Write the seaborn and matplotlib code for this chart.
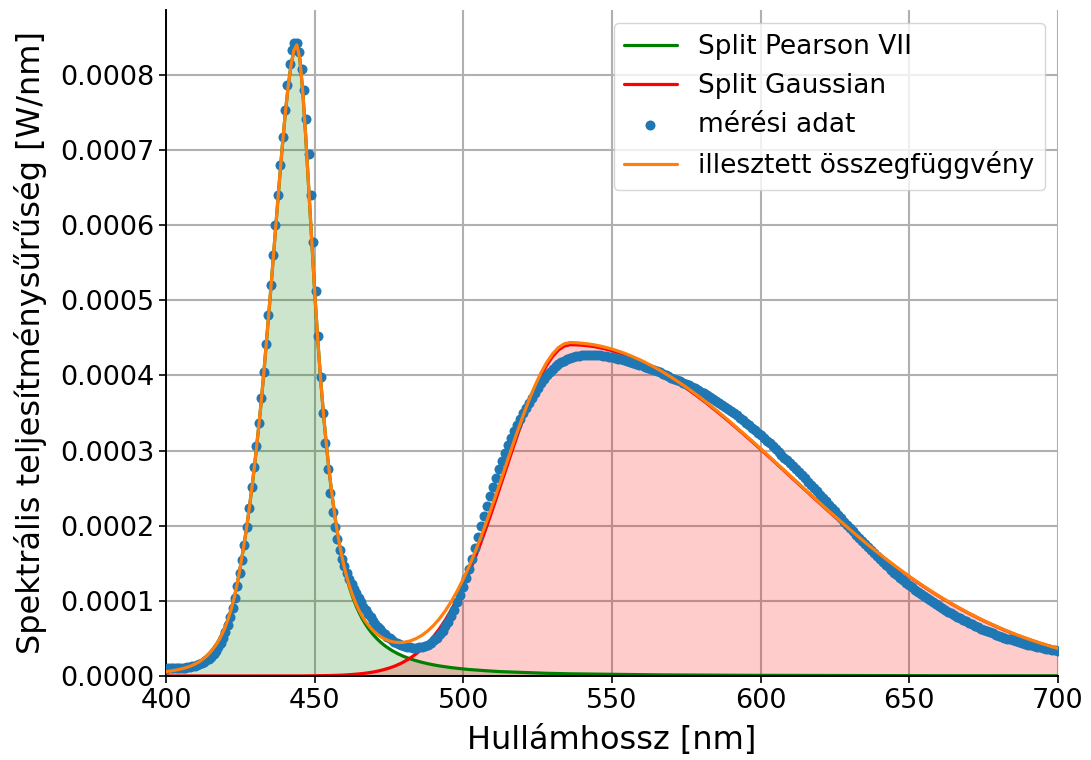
import numpy as np
import matplotlib
matplotlib.use("Agg")
import matplotlib.pyplot as plt
from matplotlib.ticker import FormatStrFormatter, MultipleLocator
import seaborn as sns

# ---------------- data (values in µW/nm, converted to W/nm below) ----------------
# measured spectrum: 0.8 nm steps 400-480 nm, then 1 nm steps 481-700 nm
meas_wl = np.concatenate([np.linspace(400, 480, 101), np.arange(481, 701)])
meas_uw = [
    9.8, 10.0, 10.1, 10.2, 10.3, 10.4, 10.5, 10.7, 11.0, 11.4,
    12.0, 12.7, 13.6, 14.6, 15.8, 17.2, 18.8, 20.7, 23.0, 25.8,
    29.0, 33.0, 38.0, 44.0, 51.0, 59.0, 68.0, 78.0, 90.0, 104.0,
    120.0, 137.0, 155.0, 175.0, 198.0, 224.0, 251.0, 278.0, 306.0, 337.0,
    370.0, 405.0, 442.0, 480.0, 520.0, 560.0, 600.0, 640.0, 680.0, 718.0,
    754.0, 787.0, 814.0, 833.0, 843.0, 842.0, 830.0, 808.0, 780.0, 742.0,
    695.0, 640.0, 578.0, 512.0, 452.0, 398.0, 350.0, 310.0, 275.0, 244.0,
    218.0, 198.0, 182.0, 168.0, 156.0, 146.0, 137.0, 129.0, 122.0, 116.0,
    110.0, 104.0, 98.0, 92.5, 87.5, 82.5, 78.0, 73.5, 69.5, 65.5,
    62.0, 58.5, 55.5, 52.5, 50.0, 47.5, 45.5, 43.5, 42.0, 40.8,
    39.8,
    39.0, 38.3, 37.8, 37.7, 38.0, 38.8, 40.0, 41.8, 44.2, 47.3,
    51.0, 55.5, 60.5, 66.0, 72.5, 80.0, 88.5, 98.0, 108.0, 118.5,
    130.0, 142.5, 156.0, 170.0, 184.5, 199.0, 213.0, 226.5, 239.5, 252.0,
    264.0, 275.5, 286.5, 297.0, 307.0, 316.5, 325.5, 334.0, 342.0, 349.5,
    356.5, 363.5, 370.0, 377.0, 383.5, 389.5, 395.0, 400.0, 404.5, 408.5,
    412.0, 415.0, 417.5, 419.7, 421.5, 423.0, 424.3, 425.3, 426.1, 426.7,
    427.1, 427.3, 427.4, 427.3, 427.1, 426.7, 426.2, 425.6, 424.9, 424.1,
    423.3, 422.4, 421.5, 420.5, 419.4, 418.3, 417.1, 415.9, 414.6, 413.3,
    411.9, 410.5, 409.0, 407.5, 405.9, 404.3, 402.6, 400.9, 399.1, 397.3,
    395.6, 394.0, 392.3, 390.5, 388.7, 386.8, 384.8, 382.8, 380.7, 378.5,
    376.3, 374.0, 371.6, 369.1, 366.6, 364.0, 361.3, 358.5, 355.7, 352.8,
    349.8, 346.8, 343.7, 340.5, 337.3, 334.0, 330.7, 327.3, 323.8, 320.3,
    316.8, 313.2, 309.6, 305.9, 302.2, 298.4, 294.6, 290.8, 286.9, 283.0,
    279.1, 275.1, 271.1, 267.1, 263.0, 258.8, 254.5, 250.2, 245.8, 241.4,
    237.0, 232.5, 228.0, 223.5, 219.0, 214.5, 210.0, 205.6, 201.2, 196.8,
    192.5, 188.2, 184.0, 179.8, 175.7, 171.6, 167.6, 163.6, 159.7, 155.9,
    152.1, 148.4, 144.8, 141.2, 137.7, 134.3, 130.9, 127.6, 124.4, 121.2,
    118.1, 115.1, 112.1, 109.2, 106.3, 103.5, 100.8, 98.1, 95.5, 92.9,
    90.4, 88.0, 85.6, 83.3, 81.0, 78.8, 76.7, 74.6, 72.6, 70.6,
    68.7, 66.8, 65.0, 63.2, 61.5, 59.8, 58.2, 56.6, 55.1, 53.6,
    52.4, 51.1, 49.8, 48.6, 47.4, 46.2, 45.1, 44.0, 42.9, 41.9,
    40.9, 40.0, 39.1, 38.2, 37.4, 36.6, 35.8, 35.1, 34.4, 33.7,
]

# fitted components: 1 nm steps 400-480 nm, then 2 nm steps 482-700 nm
fit_wl = np.concatenate([np.arange(400, 481), np.arange(482, 701, 2)])
pearson_uw = [
    5.8, 6.3, 6.9, 7.6, 8.4, 9.3, 10.3, 11.5, 12.9, 14.5,
    16.4, 18.6, 21.2, 24.2, 27.8, 32.0, 37.0, 42.5, 49.0, 57.0,
    66.0, 77.0, 90.0, 105.0, 124.0, 145.5, 169.0, 194.5, 223.0, 254.0,
    288.0, 325.0, 364.0, 408.0, 455.0, 503.0, 553.0, 603.0, 652.0, 700.0,
    744.0, 782.0, 812.0, 833.0, 840.0, 822.0, 778.0, 718.0, 650.0, 580.0,
    512.0, 450.0, 395.0, 347.0, 305.0, 268.0, 236.0, 207.0, 182.0, 161.0,
    143.0, 127.5, 114.2, 102.7, 92.7, 84.0, 76.3, 69.5, 63.6, 58.3,
    53.6, 49.4, 45.6, 42.2, 39.2, 36.5, 33.9, 31.7, 29.6, 27.8,
    26.0,
    23.0, 20.5, 18.3, 16.4, 14.8, 13.4, 12.2, 11.1, 10.2, 9.4,
    8.6, 8.0, 7.4, 6.9, 6.4, 5.9, 5.6, 5.2, 4.9, 4.6,
    4.3, 4.0, 3.8, 3.6, 3.4, 3.2, 3.1, 2.9, 2.8, 2.6,
    2.5, 2.4, 2.3, 2.2, 2.1, 2.0, 1.9, 1.85, 1.75, 1.7,
    1.6, 1.55, 1.5, 1.45, 1.4, 1.35, 1.3, 1.25, 1.2, 1.15,
    1.1, 1.08, 1.05, 1.0, 0.98, 0.95, 0.92, 0.9, 0.87, 0.85,
    0.82, 0.8, 0.78, 0.76, 0.74, 0.72, 0.7, 0.68, 0.66, 0.64,
    0.62, 0.61, 0.59, 0.58, 0.56, 0.55, 0.54, 0.52, 0.51, 0.5,
    0.49, 0.48, 0.47, 0.46, 0.45, 0.44, 0.43, 0.42, 0.41, 0.4,
    0.39, 0.38, 0.375, 0.37, 0.36, 0.35, 0.345, 0.34, 0.33, 0.325,
    0.32, 0.31, 0.305, 0.3, 0.295, 0.29, 0.285, 0.28, 0.275, 0.27,
]
gaussian_uw = [
    0.0, 0.0, 0.0, 0.0, 0.0, 0.0, 0.0, 0.0, 0.0, 0.0,
    0.0, 0.0, 0.0, 0.0, 0.0, 0.0, 0.0, 0.0, 0.0, 0.0,
    0.0, 0.0, 0.0, 0.0, 0.0, 0.0, 0.0, 0.0, 0.0, 0.0,
    0.0, 0.0, 0.0, 0.0, 0.0, 0.0, 0.0, 0.0, 0.0, 0.0,
    0.0, 0.0, 0.0, 0.0, 0.0, 0.1, 0.1, 0.15, 0.17, 0.2,
    0.25, 0.3, 0.35, 0.4, 0.5, 0.6, 0.7, 0.8, 0.95, 1.1,
    1.3, 1.5, 1.8, 2.1, 2.4, 2.8, 3.2, 3.7, 4.2, 4.8,
    5.5, 6.3, 7.2, 8.2, 9.3, 10.5, 11.8, 13.3, 15.0, 16.8,
    18.9,
    23.5, 29.1, 35.7, 43.5, 52.6, 63.0, 74.9, 88.3, 103.3, 119.9,
    138.0, 157.6, 178.5, 200.6, 223.6, 247.2, 271.1, 295.0, 318.4, 340.9,
    362.2, 381.6, 398.8, 413.5, 425.3, 434.0, 439.2, 441.0, 440.8, 440.3,
    439.5, 438.4, 436.9, 435.1, 433.1, 430.6, 428.0, 424.9, 421.6, 418.1,
    414.2, 410.1, 405.7, 401.0, 396.1, 391.0, 385.7, 380.2, 374.5, 368.6,
    362.5, 356.2, 349.8, 343.2, 336.5, 329.7, 322.9, 315.9, 308.9, 301.8,
    294.6, 287.4, 280.2, 272.8, 265.6, 258.3, 251.0, 243.8, 236.6, 229.4,
    222.3, 215.3, 208.3, 201.4, 194.5, 187.8, 181.1, 174.5, 168.1, 161.8,
    155.6, 149.6, 143.6, 137.8, 132.1, 126.6, 121.3, 116.0, 110.9, 106.0,
    101.2, 96.5, 92.0, 87.7, 83.4, 79.4, 75.4, 71.6, 68.0, 64.5,
    61.1, 57.9, 54.7, 51.8, 48.9, 46.2, 43.6, 41.1, 38.7, 36.4,
]

x_ticks = [400, 450, 500, 550, 600, 650, 700]
labels = ["Split Pearson VII", "Split Gaussian", "mérési adat",
          "illesztett összegfüggvény"]

UW = 1e-6  # µW/nm -> W/nm
meas = np.asarray(meas_uw) * UW
pearson = np.asarray(pearson_uw) * UW
gauss = np.asarray(gaussian_uw) * UW
total = pearson + gauss

# ---------------- plot ----------------
sns.set_style("ticks")
plt.rcParams["font.family"] = ["DejaVu Sans"]
plt.rcParams.update({
    "text.color": "black", "axes.labelcolor": "black",
    "xtick.color": "black", "ytick.color": "black",
    "axes.edgecolor": "black",
})

fig = plt.figure(figsize=(10.91, 7.6), dpi=100)
ax = fig.add_axes([0.15215, 0.11053, 0.8176, 0.87632])

LW = 2.3
ax.fill_between(fit_wl, 0, pearson, color="green", alpha=0.2, lw=0, zorder=1)
sns.lineplot(x=fit_wl, y=pearson, color="green", linewidth=LW, ax=ax,
             label=labels[0], zorder=2)
ax.fill_between(fit_wl, 0, gauss, color="red", alpha=0.2, lw=0, zorder=1)
sns.lineplot(x=fit_wl, y=gauss, color="red", linewidth=LW, ax=ax,
             label=labels[1], zorder=2)
sns.scatterplot(x=meas_wl, y=meas, color="#1f77b4", s=52, linewidth=0,
                ax=ax, label=labels[2], zorder=3)
sns.lineplot(x=fit_wl, y=total, color="#ff7f0e", linewidth=LW, ax=ax,
             label=labels[3], zorder=4)

ax.set_xlim(400, 700)
ax.set_ylim(0, 0.0008865)
ax.set_xticks(x_ticks)
ax.yaxis.set_major_locator(MultipleLocator(0.0001))
ax.yaxis.set_major_formatter(FormatStrFormatter("%.4f"))

ax.grid(True, color="#b0b0b0", linewidth=1.5)
ax.set_axisbelow(True)
sns.despine(ax=ax)
for sp in ("left", "bottom"):
    ax.spines[sp].set_linewidth(1.4)
    ax.spines[sp].set_color("black")
ax.tick_params(axis="both", labelsize=19.5, length=5, width=1.2,
               color="black", labelcolor="black")

ax.set_xlabel("Hullámhossz [nm]", fontsize=23, color="black", labelpad=8)
ax.set_ylabel("Spektrális teljesítménysűrűség [W/nm]", fontsize=23,
              color="black", labelpad=9)

leg = ax.legend(loc="upper right", fontsize=19, framealpha=0.8)
for t in leg.get_texts():
    t.set_color("black")

fig.savefig("out.png", dpi=100)
